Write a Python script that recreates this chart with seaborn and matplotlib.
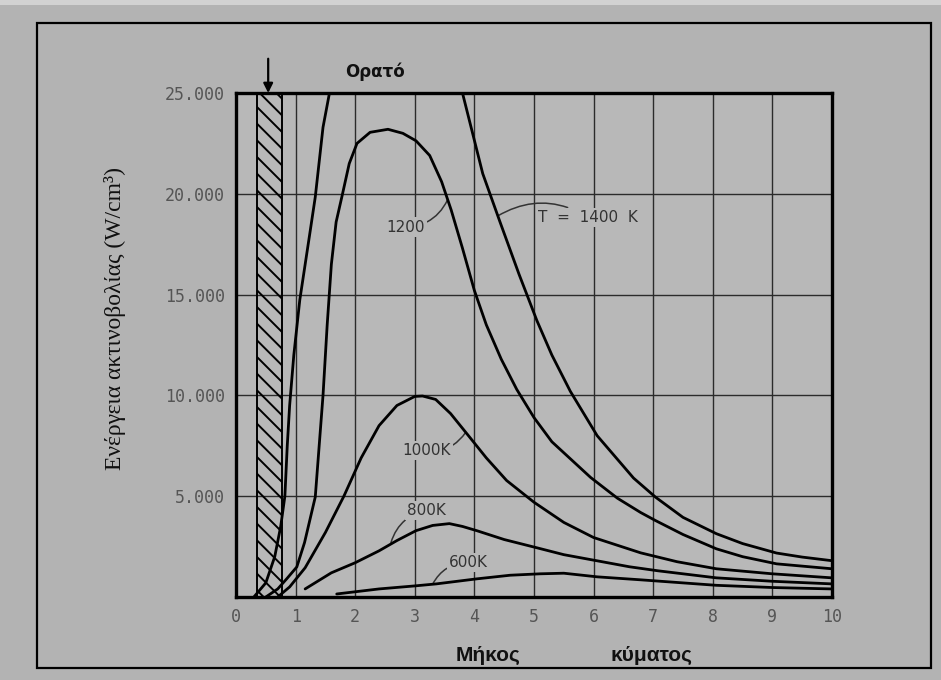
import numpy as np
import pandas as pd
import matplotlib
matplotlib.use("Agg")
import matplotlib.pyplot as plt
from matplotlib.patches import Rectangle
import seaborn as sns

# ── DATA ────────────────────────────────────────────────────
wl_1400 = [0.3, 0.5, 0.65, 0.75, 0.82, 0.86, 0.9, 0.97, 1.07, 1.24, 1.33, 1.46, 1.6, 1.8,
           2.2, 2.7, 3.2, 3.55, 3.8, 4.14, 4.43, 4.75, 5.05, 5.3, 5.61, 6.06, 6.67, 7.04, 7.5,
           8.06, 8.5, 9.07, 9.5, 10]
e_1400 = [0, 700, 2000, 3500, 5000, 7500, 9500, 12000, 14730, 18060, 19840, 23300, 25500,
          28500, 31000, 31500, 29500, 27000, 25000, 21000, 18600, 16000, 13700, 12000, 10200,
          8000, 5900, 4950, 3950, 3140, 2650, 2180, 1980, 1800]

wl_1200 = [0.5, 0.7, 0.85, 1.02, 1.15, 1.33, 1.46, 1.53, 1.6, 1.68, 1.78, 1.9, 2.03, 2.25, 2.55,
           2.8, 3.02, 3.25, 3.45, 3.61, 3.8, 4.0, 4.2, 4.45, 4.71, 5.0, 5.3, 5.95, 6.4, 6.79, 7.04,
           7.5, 8.06, 8.5, 9.07, 10]
e_1200 = [0, 400, 900, 1490, 2700, 4960, 10000, 13500, 16500, 18600, 19900, 21500, 22500, 23050,
          23200, 23000, 22630, 21900, 20600, 19200, 17300, 15200, 13500, 11800, 10300, 8900, 7700,
          5930, 4900, 4190, 3790, 3100, 2390, 2000, 1645, 1400]

wl_1000 = [0.7, 0.9, 1.16, 1.5, 1.81, 2.1, 2.4, 2.7, 3.0, 3.13, 3.35, 3.6, 3.92, 4.2, 4.54, 5.0,
           5.5, 6.0, 6.79, 7.4, 8.06, 9.0, 10]
e_1000 = [0, 500, 1450, 3200, 5000, 6900, 8500, 9500, 9950, 9970, 9800, 9100, 7930, 6900, 5780,
          4700, 3700, 2950, 2190, 1750, 1400, 1150, 950]

wl_800 = [1.16, 1.6, 2.0, 2.4, 2.7, 3.02, 3.3, 3.58, 3.8, 4.04, 4.5, 5.05, 5.5, 6.06, 6.6, 7.08,
          8.06, 9.0, 10]
e_800 = [400, 1200, 1700, 2290, 2800, 3290, 3550, 3640, 3500, 3290, 2850, 2440, 2100, 1795, 1500,
         1300, 950, 780, 650]

wl_600 = [1.69, 2.4, 3.0, 3.36, 4.04, 4.6, 5.1, 5.5, 6.06, 6.8, 8.06, 9.0, 10]
e_600 = [150, 400, 550, 650, 900, 1080, 1150, 1180, 1000, 850, 580, 470, 400]

x_ticks = list(range(0, 11))
y_ticks = [5000, 10000, 15000, 20000, 25000]
y_tick_labels = ["5.000", "10.000", "15.000", "20.000", "25.000"]

curves = {"1400": (wl_1400, e_1400), "1200": (wl_1200, e_1200), "1000": (wl_1000, e_1000),
          "800": (wl_800, e_800), "600": (wl_600, e_600)}
df = pd.concat([pd.DataFrame({"wl": w, "E": e, "T": t}) for t, (w, e) in curves.items()])

# ── FIGURE ───────────────────────────────────────────────
sns.set_style("white")
bg = "#b3b3b3"
plt.rcParams["hatch.linewidth"] = 1.4
fig = plt.figure(figsize=(9.41, 6.80), dpi=100, facecolor=bg)
ax = fig.add_axes([236 / 941, 83 / 680, 596 / 941, 504 / 680])
ax.set_facecolor("#b8b8b8")

# slide frame
fig.add_artist(Rectangle((37 / 941, 12 / 680), 894 / 941, 645 / 680, transform=fig.transFigure,
                         fill=False, edgecolor="black", linewidth=1.6))
fig.add_artist(Rectangle((0, 675 / 680), 1, 5 / 680, transform=fig.transFigure,
                         facecolor="#d2d2d2", edgecolor="none"))

# visible band
ax.axvspan(0.36, 0.78, facecolor="none", edgecolor="black", hatch="\\\\", linewidth=1.4, zorder=2)

for t in curves:
    sns.lineplot(data=df[df["T"] == t], x="wl", y="E", color="black", linewidth=2.0,
                 estimator=None, sort=False, ax=ax, zorder=4, solid_joinstyle="round")

ax.set_xlim(0, 10)
ax.set_ylim(0, 25000)
ax.set_xticks(x_ticks)
ax.set_xticklabels([str(v) for v in x_ticks])
ax.set_yticks(y_ticks)
ax.set_yticklabels(y_tick_labels)
ax.grid(True, color="#2b2b2b", linewidth=1.0, zorder=1)
ax.set_axisbelow(True)
ax.tick_params(length=0, labelsize=12, labelcolor="#555555", pad=8)
for lab in ax.get_xticklabels() + ax.get_yticklabels():
    lab.set_family("DejaVu Sans Mono")
for s in ax.spines.values():
    s.set_visible(True)
    s.set_color("black")
    s.set_linewidth(2.4)
ax.set_xlabel("")
ax.set_ylabel("")

# curve labels with leader strokes
box = dict(facecolor="#b8b8b8", edgecolor="none", pad=1.5)
lab_kw = dict(fontsize=11, color="#333333", ha="center", va="center", zorder=3, bbox=box,
              arrowprops=dict(arrowstyle="-", color="#333333", lw=1.1, shrinkA=0, shrinkB=0,
                              connectionstyle="arc3,rad=0.3"))
ax.annotate("1200", xy=(3.55, 19700), xytext=(2.85, 18350), **lab_kw)
ax.annotate("T  =  1400  K", xy=(4.39, 18900), xytext=(5.9, 18840), **lab_kw)
ax.annotate("1000K", xy=(3.85, 8150), xytext=(3.2, 7280), **lab_kw)
ax.annotate("800K", xy=(2.6, 2700), xytext=(3.2, 4290), **lab_kw)
ax.annotate("600K", xy=(3.3, 640), xytext=(3.9, 1700), **lab_kw)

# visible-light marker
ax.annotate("", xy=(0.54, 25000), xytext=(0.54, 26700), annotation_clip=False,
            arrowprops=dict(arrowstyle="-|>", color="black", lw=1.6, mutation_scale=14,
                            shrinkA=0, shrinkB=0))
ax.text(2.33, 26050, "Ορατό", fontsize=12, fontweight="bold", ha="center", va="center",
        color="#111111", clip_on=False)

# axis titles
fig.text(488 / 941, 1 - 655 / 680, "Μήκος", fontsize=15, fontweight="bold",
         family="Liberation Sans", ha="center", va="center", color="#111111")
fig.text(652 / 941, 1 - 655 / 680, "κύματος", fontsize=15, fontweight="bold",
         family="Liberation Sans", ha="center", va="center", color="#111111")
fig.text(115 / 941, 1 - 318 / 680, "Ενέργεια ακτινοβολίας (W/cm³)", rotation=90,
         fontsize=17, family="Liberation Serif", ha="center", va="center", color="#111111")

fig.savefig("out.png", dpi=100, facecolor=bg)
